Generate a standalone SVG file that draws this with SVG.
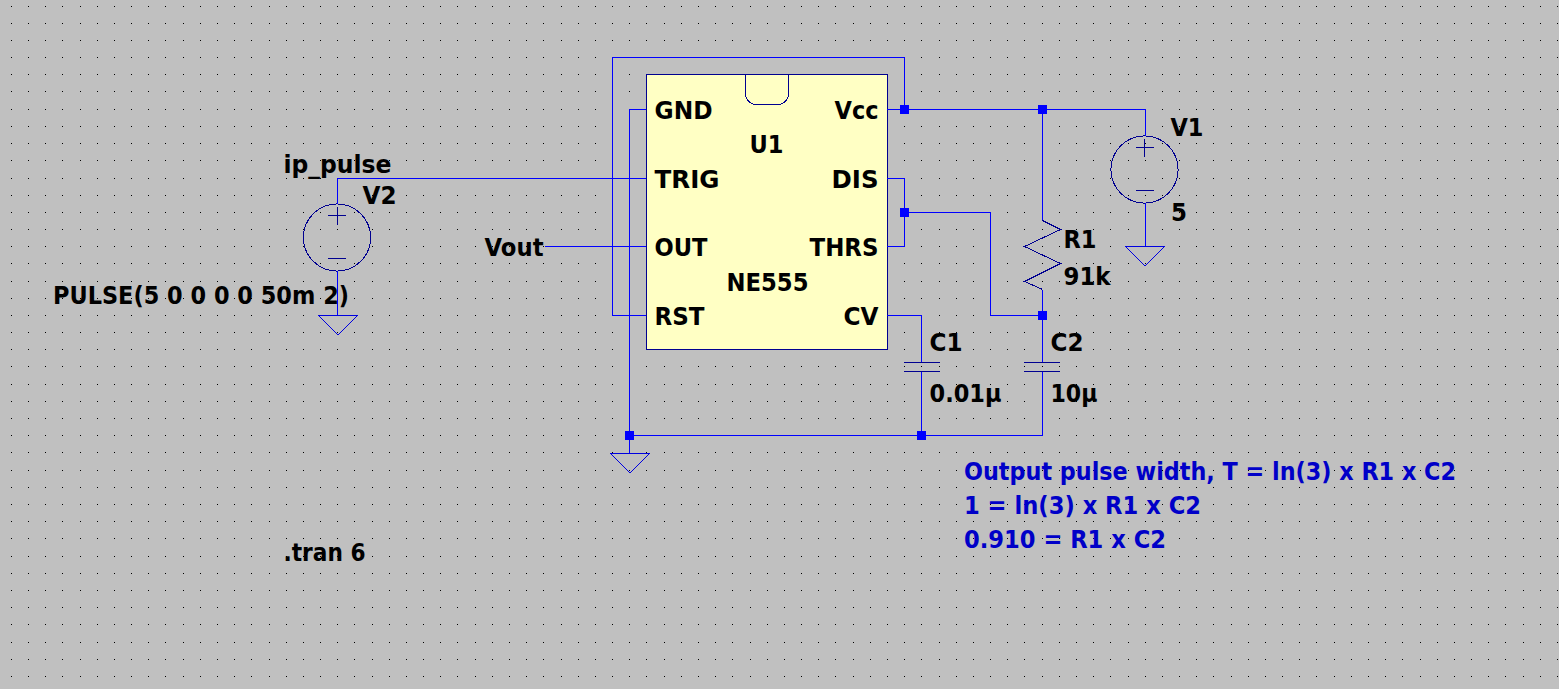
<svg xmlns="http://www.w3.org/2000/svg" width="1559" height="689" viewBox="0 0 1559 689">
<style>
.t{font-family:"DejaVu Sans","Liberation Sans",sans-serif;font-weight:700;font-size:24.5px;fill:#000}
.c{fill:#0000c8}
.s{fill:none;stroke:#000090;stroke-width:1;shape-rendering:crispEdges}
.g{fill:none;stroke:#0000e0;stroke-width:1;shape-rendering:crispEdges}
.w{fill:none;stroke:#0000ff;stroke-width:1;shape-rendering:crispEdges}
.j{fill:#0000ff;shape-rendering:crispEdges}
</style>
<defs>
<g id="src"><circle cx="0" cy="0" r="33.6" class="s"/><path class="s" d="M-9 -22H9M0 -30.500V-13M-9 21H9"/></g>
<path id="gnd" class="g" d="M-19.500 0H19.500L0 19.500Z"/>
<path id="cap" class="s" d="M-18 0H18M-18 9H18"/>
</defs>
<rect width="1559" height="689" fill="#c0c0c0"/>
<path id="grid" fill="none" stroke="#000" stroke-width="1" stroke-dasharray="1 16.18" shape-rendering="crispEdges" d="M10.8 6.500H1559M10.8 23.500H1559M10.8 40.500H1559M10.8 57.500H1559M10.8 74.500H1559M10.8 91.500H1559M10.8 109.500H1559M10.8 126.500H1559M10.8 143.500H1559M10.8 160.500H1559M10.8 178.500H1559M10.8 195.500H1559M10.8 212.500H1559M10.8 229.500H1559M10.8 246.500H1559M10.8 263.500H1559M10.8 281.500H1559M10.8 298.500H1559M10.8 315.500H1559M10.8 332.500H1559M10.8 349.500H1559M10.8 366.500H1559M10.8 384.500H1559M10.8 401.500H1559M10.8 418.500H1559M10.8 435.500H1559M10.8 452.500H1559M10.8 470.500H1559M10.8 487.500H1559M10.8 504.500H1559M10.8 521.500H1559M10.8 538.500H1559M10.8 556.500H1559M10.8 573.500H1559M10.8 590.500H1559M10.8 607.500H1559M10.8 624.500H1559M10.8 642.500H1559M10.8 659.500H1559M10.8 676.500H1559"/>
<g id="U1">
<rect x="646.500" y="74.500" width="241" height="275" fill="#ffffc4" stroke="#000090" shape-rendering="crispEdges"/>
<path class="s" d="M745.500 74.500V93C745.500 100 750 104.500 757 104.500H777C784 104.500 788.500 100 788.500 93V74.500"/>
<text class="t" x="654.500" y="119" textLength="58" lengthAdjust="spacingAndGlyphs">GND</text>
<text class="t" x="834.500" y="119" textLength="44" lengthAdjust="spacingAndGlyphs">Vcc</text>
<text class="t" x="749.500" y="153" textLength="34" lengthAdjust="spacingAndGlyphs">U1</text>
<text class="t" x="654.500" y="188" textLength="65" lengthAdjust="spacingAndGlyphs">TRIG</text>
<text class="t" x="831.500" y="188" textLength="47" lengthAdjust="spacingAndGlyphs">DIS</text>
<text class="t" x="654.500" y="256" textLength="53" lengthAdjust="spacingAndGlyphs">OUT</text>
<text class="t" x="809.500" y="256" textLength="69" lengthAdjust="spacingAndGlyphs">THRS</text>
<text class="t" x="726.500" y="291" textLength="82" lengthAdjust="spacingAndGlyphs">NE555</text>
<text class="t" x="654.500" y="325" textLength="50" lengthAdjust="spacingAndGlyphs">RST</text>
<text class="t" x="843.500" y="325" textLength="35" lengthAdjust="spacingAndGlyphs">CV</text>
</g>
<g id="V1">
<use href="#src" x="1144.500" y="169.500"/>
<text class="t" x="1170.500" y="136" textLength="33" lengthAdjust="spacingAndGlyphs">V1</text>
<text class="t" x="1171" y="221" textLength="16" lengthAdjust="spacingAndGlyphs">5</text>
</g>
<g id="V2">
<use href="#src" x="337" y="237.500"/>
<text class="t" x="362.500" y="204" textLength="34" lengthAdjust="spacingAndGlyphs">V2</text>
<text class="t" x="53" y="304" textLength="296" lengthAdjust="spacingAndGlyphs">PULSE(5 0 0 0 0 50m 2)</text>
</g>
<g id="R1">
<path class="s" d="M1042.500 220.500L1060.500 229.500L1024.500 246.500L1060.500 263.500L1024.500 281.500L1042.500 289.500"/>
<text class="t" x="1063.500" y="248" textLength="33" lengthAdjust="spacingAndGlyphs">R1</text>
<text class="t" x="1063.500" y="285" textLength="47" lengthAdjust="spacingAndGlyphs">91k</text>
</g>
<g id="C1">
<use href="#cap" x="922" y="362.500"/>
<text class="t" x="929.500" y="351" textLength="33" lengthAdjust="spacingAndGlyphs">C1</text>
<text class="t" x="929.500" y="402" textLength="72" lengthAdjust="spacingAndGlyphs">0.01µ</text>
</g>
<g id="C2">
<use href="#cap" x="1042" y="362.500"/>
<text class="t" x="1050.500" y="351" textLength="33" lengthAdjust="spacingAndGlyphs">C2</text>
<text class="t" x="1050.500" y="402" textLength="47" lengthAdjust="spacingAndGlyphs">10µ</text>
</g>
<g id="GND1"><use href="#gnd" x="1145" y="246.500"/></g>
<g id="GND2"><use href="#gnd" x="338" y="315.500"/></g>
<g id="GND3"><use href="#gnd" x="630" y="453.500"/></g>
<g id="net-labels">
<text class="t" x="283.500" y="173" textLength="108" lengthAdjust="spacingAndGlyphs">ip_pulse</text>
<text class="t" x="484.500" y="256" textLength="59" lengthAdjust="spacingAndGlyphs">Vout</text>
</g>
<g id="notes">
<text class="t" x="283.500" y="561" textLength="82" lengthAdjust="spacingAndGlyphs">.tran 6</text>
<text class="t c" x="964" y="480" textLength="492" lengthAdjust="spacingAndGlyphs">Output pulse width, T = ln(3) x R1 x C2</text>
<text class="t c" x="964" y="514" textLength="237" lengthAdjust="spacingAndGlyphs">1 = ln(3) x R1 x C2</text>
<text class="t c" x="964" y="548" textLength="202" lengthAdjust="spacingAndGlyphs">0.910 = R1 x C2</text>
</g>
<g id="connectors">
<path class="w" d="M646 315.500H612.500V57.500H904.500V109.500"/>
<path class="w" d="M887 109.500H1145.500V136"/>
<path class="w" d="M1145.500 203V246"/>
<path class="w" d="M646 109.500H629.500V453"/>
<path class="w" d="M646 178.500H337.500V204"/>
<path class="w" d="M337.500 271V315"/>
<path class="w" d="M545 246.500H646"/>
<path class="w" d="M887 178.500H904.500V246.500H887"/>
<path class="w" d="M904.500 212.500H990.500V315.500H1042.500"/>
<path class="w" d="M1042.500 109.500V220"/>
<path class="w" d="M1042.500 290V362"/>
<path class="w" d="M1042.500 372V435.500H629.500"/>
<path class="w" d="M887 315.500H921.500V362"/>
<path class="w" d="M921.500 372V435"/>
<rect class="j" x="900" y="105" width="9" height="9"/>
<rect class="j" x="1038" y="105" width="9" height="9"/>
<rect class="j" x="900" y="208" width="9" height="9"/>
<rect class="j" x="1038" y="311" width="9" height="9"/>
<rect class="j" x="917" y="431" width="9" height="9"/>
<rect class="j" x="625" y="431" width="9" height="9"/>
</g>
</svg>
